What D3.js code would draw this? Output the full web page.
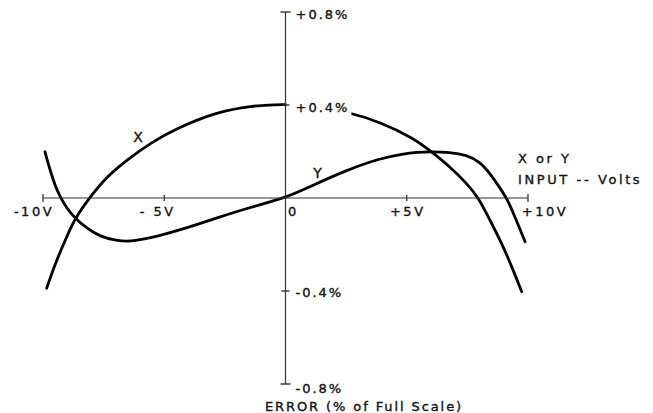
<!DOCTYPE html>
<html>
<head>
<meta charset="utf-8">
<script src="https://cdn.jsdelivr.net/npm/d3@7.9.0/dist/d3.min.js"></script>
<style>
  html, body { margin: 0; padding: 0; background: #fff; }
  svg text { font-family: "DejaVu Sans", sans-serif; fill: #111; stroke: #111; stroke-width: 0.35px; }
</style>
</head>
<body>
<svg id="chart" width="653" height="413"></svg>
<script>
// error curves (input volts -> % of full scale)
const xInput = [-9.85, -9.44, -9.02, -8.68, -8.06, -7.37, -6.55, -5.59, -4.49, -2.82, -1.46, 0, 1.3, 2.58, 3.9, 5.27, 5.96, 6.78, 7.47, 7.95, 8.43, 8.92, 9.33, 9.74];
const xError = [-0.388, -0.267, -0.166, -0.087, 0.004, 0.092, 0.163, 0.235, 0.300, 0.370, 0.396, 0.405, 0.393, 0.370, 0.327, 0.258, 0.204, 0.135, 0.063, 0.003, -0.095, -0.195, -0.295, -0.403];

const yInput = [-9.92, -9.71, -9.51, -9.30, -9.02, -8.68, -8.20, -7.65, -6.96, -6.41, -5.59, -4.35, -2.82, -1.46, 0, 1.15, 2.52, 3.9, 4.86, 5.41, 5.96, 6.78, 7.47, 8.02, 8.43, 8.85, 9.12, 9.46, 9.88];
const yError = [0.199, 0.120, 0.056, 0.006, -0.044, -0.087, -0.130, -0.166, -0.184, -0.188, -0.173, -0.138, -0.085, -0.040, 0, 0.056, 0.120, 0.171, 0.190, 0.197, 0.199, 0.197, 0.185, 0.156, 0.106, 0.042, 0, -0.080, -0.188];

const xTicks = [-10, -5, 0, 5, 10];
const xTickLabels = ["-10V", "- 5V", "0", "+5V", "+10V"];
const yTicks = [0.8, 0.4, -0.4, -0.8];
const yTickLabels = ["+0.8%", "+0.4%", "-0.4%", "-0.8%"];

const svg = d3.select('#chart');

const x = d3.scaleLinear().domain([-10, 10]).range([43, 528]);
const y = d3.scaleLinear().domain([-0.8, 0.8]).range([384, 12]);

const axisColor = '#333';

// curves first so the axis and labels sit on top
const line = d3.line()
  .x(d => x(d[0]))
  .y(d => y(d[1]))
  .curve(d3.curveBasis);

svg.append('path')
  .attr('d', line(d3.zip(xInput, xError)))
  .attr('fill', 'none').attr('stroke', '#000').attr('stroke-width', 2.8)
  .attr('stroke-linecap', 'round');

svg.append('path')
  .attr('d', line(d3.zip(yInput, yError)))
  .attr('fill', 'none').attr('stroke', '#000').attr('stroke-width', 2.8)
  .attr('stroke-linecap', 'round');

// horizontal axis (input volts) - crosses at the 5V ticks, caps at the ends
const gx = svg.append('g').attr('transform', `translate(0,${y(0)})`);
gx.append('line')
  .attr('x1', x(-10)).attr('x2', x(10))
  .attr('stroke', axisColor).attr('stroke-width', 1.2);
gx.selectAll('.xt')
  .data(xTicks.filter(d => d !== 0))
  .join('line')
  .attr('x1', d => x(d)).attr('x2', d => x(d))
  .attr('y1', d => Math.abs(d) === 10 ? -4 : -3)
  .attr('y2', d => Math.abs(d) === 10 ? 4 : 3)
  .attr('stroke', axisColor).attr('stroke-width', 1.3);

// vertical axis (error %)
const gy = svg.append('g').attr('transform', `translate(${x(0)},0)`);
gy.append('line')
  .attr('y1', y(0.8)).attr('y2', y(-0.8))
  .attr('stroke', axisColor).attr('stroke-width', 1.2);

// tick labels, nudged where the original had them
const xLabelShift = [-9, -6.5, 8, 1, 17];
svg.selectAll('.xl')
  .data(xTicks)
  .join('text')
  .attr('x', (d, i) => x(d) + xLabelShift[i])
  .attr('y', y(0) + 18)
  .attr('text-anchor', 'middle')
  .attr('font-size', 13)
  .attr('letter-spacing', 2.5)
  .text((d, i) => xTickLabels[i]);

const yLabelShift = [2, 2, 1.5, 4];
const yl = svg.selectAll('.yl')
  .data(yTicks)
  .join('text')
  .attr('x', x(0) + 10)
  .attr('y', (d, i) => y(d) + yLabelShift[i])
  .attr('dominant-baseline', 'central')
  .attr('font-size', 13)
  .attr('letter-spacing', 2)
  .text((d, i) => yTickLabels[i]);

// the X curve runs behind the +0.4% label in the original
const b = yl.filter(d => d === 0.4).node().getBBox();
svg.insert('rect', 'g')
  .attr('x', x(0) + 1).attr('y', b.y - 1)
  .attr('width', b.x + b.width + 2 - x(0) - 1).attr('height', b.height + 4)
  .attr('fill', '#fff');
svg.select('rect').lower();
svg.selectAll('path').lower();

gy.selectAll('.yt')
  .data(yTicks)
  .join('line')
  .attr('y1', d => y(d)).attr('y2', d => y(d))
  .attr('x1', d => Math.abs(d) === 0.8 ? -5 : -4)
  .attr('x2', d => Math.abs(d) === 0.8 ? 5 : 4)
  .attr('stroke', axisColor).attr('stroke-width', 1.4);

// curve names
svg.append('text').attr('x', x(-6.08)).attr('y', y(0.262))
  .attr('text-anchor', 'middle').attr('dominant-baseline', 'central')
  .attr('font-size', 14).text('X');
svg.append('text').attr('x', x(1.32)).attr('y', y(0.107))
  .attr('text-anchor', 'middle').attr('dominant-baseline', 'central')
  .attr('font-size', 14).text('Y');

// axis titles
svg.append('text').attr('x', 518).attr('y', 158)
  .attr('dominant-baseline', 'central')
  .attr('font-size', 13).attr('letter-spacing', 2.5)
  .text('X or Y');
svg.append('text').attr('x', 518).attr('y', 179)
  .attr('dominant-baseline', 'central')
  .attr('font-size', 13).attr('letter-spacing', 2.6)
  .text('INPUT -- Volts');

svg.append('text').attr('x', 265).attr('y', 406)
  .attr('dominant-baseline', 'central')
  .attr('font-size', 13).attr('letter-spacing', 1.9)
  .text('ERROR (% of Full Scale)');
</script>
</body>
</html>
